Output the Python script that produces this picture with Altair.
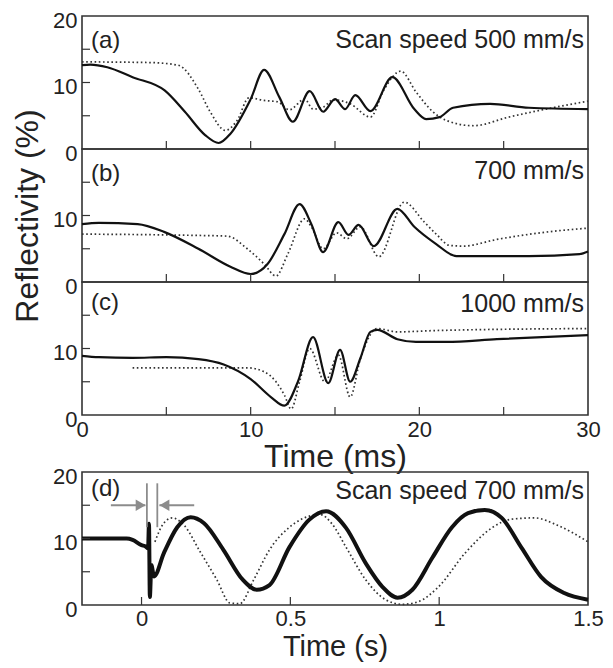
import altair as alt
import pandas as pd

FONT = "Liberation Sans"
W = 506
H = 133
GAP = 57

# ---------------- Panel (a): scan speed 500 mm/s (time in ms) ----------------
a_solid_t = [0, 0.5, 1.5, 3.0, 4.9, 6.1, 7.3, 8.1, 8.8, 10.0, 10.8, 11.7, 12.5, 13.5, 14.3, 15.0, 15.6,
             16.2, 17.1, 18.4, 19.7, 20.4, 21.2, 22.0, 24.2, 26.5, 30.0]
a_solid_v = [12.6, 12.7, 12.3, 10.8, 8.8, 5.6, 2.1, 0.9, 2.3, 7.5, 11.9, 7.8, 4.1, 8.7, 5.6, 7.5, 6.0,
             8.1, 5.7, 10.8, 6.0, 4.5, 4.8, 6.2, 6.8, 6.2, 6.0]
a_dot_t = [0, 4.0, 5.7, 6.9, 7.6, 8.5, 9.2, 9.9, 10.8, 11.6, 12.3, 13.2, 13.7, 14.3, 14.9, 15.9, 17.1,
           17.9, 18.9, 19.8, 20.8, 21.6, 23.2, 25.3, 27.5, 30.0]
a_dot_v = [13.1, 13.0, 12.6, 9.0, 5.6, 2.8, 4.3, 7.7, 7.3, 7.1, 5.9, 7.5, 6.0, 6.3, 7.4, 6.8, 4.8,
           8.9, 11.7, 8.6, 5.6, 4.3, 3.5, 4.8, 6.0, 7.2]

# ---------------- Panel (b): 700 mm/s ----------------
b_solid_t = [0, 1.0, 3.3, 4.9, 6.9, 8.8, 10.0, 11.0, 12.0, 12.9, 13.6, 14.3, 15.2, 15.8, 16.4, 17.3,
             18.7, 19.7, 21.0, 22.2, 26.5, 29.5, 30.0]
b_solid_v = [8.7, 8.9, 8.7, 7.5, 5.0, 2.3, 1.2, 2.7, 7.2, 11.7, 8.7, 4.5, 9.0, 7.1, 8.6, 5.4,
             11.0, 8.3, 5.7, 3.9, 3.9, 4.2, 4.6]
b_dot_t = [0, 6.9, 8.6, 9.8, 10.8, 11.5, 12.2, 13.2, 13.6, 14.3, 15.1, 15.7, 16.5, 17.6, 19.1, 20.3,
           21.0, 21.8, 22.6, 24.6, 27.5, 30.0]
b_dot_v = [7.2, 7.0, 6.9, 5.0, 2.7, 0.9, 4.2, 9.5, 8.3, 5.0, 7.4, 6.5, 8.3, 3.8, 12.0, 9.0,
           7.2, 5.5, 5.4, 6.4, 7.5, 8.1]

# ---------------- Panel (c): 1000 mm/s ----------------
c_solid_t = [0, 1.0, 3.0, 5.0, 6.9, 8.4, 10.0, 11.2, 12.0, 12.8, 13.7, 14.6, 15.3, 15.9, 16.5, 17.1,
             17.5, 18.7, 19.8, 21.6, 24.6, 30.0]
c_solid_v = [8.9, 8.7, 8.6, 8.7, 8.4, 7.6, 5.4, 2.7, 1.4, 5.0, 11.7, 4.8, 9.8, 5.0, 8.5, 12.5,
             12.8, 11.4, 11.0, 11.0, 11.4, 12.0]
c_dot_t = [3.0, 9.8, 10.8, 11.5, 12.0, 12.4, 12.9, 13.5, 14.4, 15.2, 15.9, 16.5, 17.5, 18.7, 21.0, 30.0]
c_dot_v = [7.1, 7.1, 6.5, 5.0, 3.0, 0.9, 5.0, 10.0, 5.0, 9.0, 2.7, 8.4, 13.0, 12.5, 12.7, 13.0]

# ---------------- Panel (d): 700 mm/s, long time scale (s) ----------------
d_solid_t = [-0.2, -0.05, -0.03, 0.0, 0.014, 0.022, 0.025, 0.028, 0.033, 0.042, 0.075, 0.12, 0.165,
             0.21, 0.275, 0.34, 0.387, 0.43, 0.497, 0.563, 0.62, 0.687, 0.753, 0.81, 0.86, 0.91,
             0.977, 1.043, 1.097, 1.153, 1.21, 1.277, 1.343, 1.42, 1.5]
d_solid_v = [10.0, 10.0, 9.8, 9.0, 8.8, 8.5, 12.2, 1.2, 6.0, 4.3, 7.8, 11.7, 13.2,
             12.3, 8.3, 3.8, 2.3, 3.0, 8.7, 12.8, 14.1, 11.6, 6.3, 2.7, 1.1, 2.3,
             7.1, 11.7, 13.8, 14.3, 13.1, 8.6, 4.2, 1.8, 0.8]
d_dot_t = [0.045, 0.07, 0.103, 0.143, 0.197, 0.253, 0.297, 0.33, 0.377, 0.43, 0.497, 0.577, 0.6,
           0.64, 0.687, 0.753, 0.82, 0.877, 0.93, 0.997, 1.087, 1.177, 1.243, 1.32, 1.397, 1.5]
d_dot_v = [9.5, 12.0, 13.1, 12.0, 8.0, 3.8, 0.3, 0.2, 3.8, 8.3, 11.7, 13.5, 13.6,
           12.2, 8.7, 3.8, 0.8, 0.1, 0.5, 2.7, 7.8, 11.6, 12.9, 13.1, 12.0, 9.5]

# gray annotation in (d): two arrows pointing at two vertical markers
arrow_tail = [-0.103, 0.177]
arrow_tip = [0.013, 0.060]
arrow_head = [-0.003, 0.077]
arrow_shape = ["triangle-right", "triangle-left"]
arrow_y = [15.0, 15.0]
marker_t = [0.018, 0.053]
marker_y0 = [11.7, 11.7]
marker_y1 = [18.3, 18.3]

# axis label / tick values
ms_label_vals = [0, 10, 20, 30]
ms_tick_vals = [5, 10, 15, 20, 25]
s_label_vals = [0, 0.5, 1, 1.5]
s_tick_vals = [0, 0.5, 1]
y_tick_vals = [5, 10, 15]

INK = "#111111"
DOT = "#333333"
GRAY = "#8c8c8c"


def panel(st, sv, dt, dv, label, note, yvals, xdomain, xtick_vals, label_y, note_y,
          xaxis=None, ytitle=None, solid_w=2.2, extra=None):
    solid = pd.DataFrame({"t": st, "v": sv})
    dotted = pd.DataFrame({"t": dt, "v": dv})
    xscale = alt.Scale(domain=xdomain, nice=False, zero=False)
    yscale = alt.Scale(domain=[0, 20], nice=False)
    if xaxis is None:
        xaxis = alt.Axis(labels=False, ticks=False, domain=False, grid=False, title=None)
    yaxis = alt.Axis(values=yvals, format="d", labelFontSize=22, labelPadding=5, labelOffset=4,
                     title=ytitle, titleFontSize=32, titlePadding=8,
                     grid=False, ticks=False, domain=False)

    def X(f):
        return alt.X(f, scale=xscale, axis=xaxis)

    def Y(f):
        return alt.Y(f, scale=yscale, axis=yaxis)

    l_solid = alt.Chart(solid).mark_line(color=INK, strokeWidth=solid_w, interpolate="monotone").encode(
        x=X("t:Q"), y=Y("v:Q"))
    l_dot = alt.Chart(dotted).mark_line(color=DOT, strokeWidth=1.7, strokeDash=[1.6, 2.6],
                                        interpolate="monotone").encode(x=X("t:Q"), y=Y("v:Q"))
    yt = alt.Chart(pd.DataFrame({"v": y_tick_vals})).mark_rule(color="#333", strokeWidth=1.2).encode(
        y=Y("v:Q"), x=alt.value(0), x2=alt.value(8))
    xt = alt.Chart(pd.DataFrame({"t": xtick_vals})).mark_rule(color="#333", strokeWidth=1.2).encode(
        x=X("t:Q"), y=alt.value(H), y2=alt.value(H - 8))
    lab = alt.Chart(pd.DataFrame({"s": [label]})).mark_text(
        align="left", baseline="middle", fontSize=24, font=FONT, color="#222").encode(
        text="s:N", x=alt.value(9), y=alt.value(label_y))
    nt = alt.Chart(pd.DataFrame({"s": [note]})).mark_text(
        align="right", baseline="middle", fontSize=25, font=FONT, color="#222").encode(
        text="s:N", x=alt.value(W - 4), y=alt.value(note_y))
    layers = [l_dot, l_solid, yt, xt, lab, nt]
    if extra is not None:
        layers += extra(X, Y)
    return alt.layer(*layers).properties(width=W, height=H)


pa = panel(a_solid_t, a_solid_v, a_dot_t, a_dot_v, "(a)", "Scan speed 500 mm/s",
           [0, 10, 20], [0, 30], ms_tick_vals, 25, 24)
pb = panel(b_solid_t, b_solid_v, b_dot_t, b_dot_v, "(b)", "700 mm/s",
           [0, 10], [0, 30], ms_tick_vals, 25, 22, ytitle="Reflectivity (%)")
xaxis_c = alt.Axis(values=ms_label_vals, format="d", labelFontSize=22, labelPadding=4, labelFlush=False,
                   title="Time (ms)", titleFontSize=32, titlePadding=1,
                   grid=False, ticks=False, domain=False)
pc = panel(c_solid_t, c_solid_v, c_dot_t, c_dot_v, "(c)", "1000 mm/s",
           [0, 10], [0, 30], ms_tick_vals, 21, 22, xaxis=xaxis_c)

xaxis_d = alt.Axis(values=s_label_vals, format="~g", labelFontSize=22, labelPadding=3, labelFlush=False,
                   title="Time (s)", titleFontSize=29, titlePadding=3,
                   grid=False, ticks=False, domain=False)


def d_extra(X, Y):
    arrows = pd.DataFrame({"tail": arrow_tail, "tip": arrow_tip, "head": arrow_head,
                           "shape": arrow_shape, "y": arrow_y})
    markers = pd.DataFrame({"t": marker_t, "y0": marker_y0, "y1": marker_y1})
    shafts = alt.Chart(arrows).mark_rule(color=GRAY, strokeWidth=2).encode(
        x=X("tail:Q"), x2="tip:Q", y=Y("y:Q"))
    heads = alt.Chart(arrows).mark_point(filled=True, color=GRAY, opacity=1, size=130).encode(
        x=X("head:Q"), y=Y("y:Q"), shape=alt.Shape("shape:N", scale=None))
    mk = alt.Chart(markers).mark_rule(color=GRAY, strokeWidth=1.8).encode(
        x=X("t:Q"), y=Y("y0:Q"), y2="y1:Q")
    return [mk, shafts, heads]


pdd = panel(d_solid_t, d_solid_v, d_dot_t, d_dot_v, "(d)", "Scan speed 700 mm/s",
            [0, 10, 20], [-0.2, 1.5], s_tick_vals, 17, 19, xaxis=xaxis_d, solid_w=4, extra=d_extra)

spacer = alt.Chart(pd.DataFrame({"s": [""]})).mark_text().encode(
    text="s:N", x=alt.value(0), y=alt.value(0)).properties(
    width=W, height=GAP, view=alt.ViewBackground(stroke="transparent"))

chart = alt.vconcat(pa, pb, pc, spacer, pdd, spacing=0, bounds="flush").configure_view(
    stroke="#333", strokeWidth=1.6
).configure_axis(
    labelFont=FONT, titleFont=FONT, labelColor="#222", titleColor="#222", titleFontWeight="normal"
).properties(padding={"left": 2, "top": 0, "right": 0, "bottom": 0})

chart.save("out.html", embed_options={"renderer": "svg", "actions": False})
